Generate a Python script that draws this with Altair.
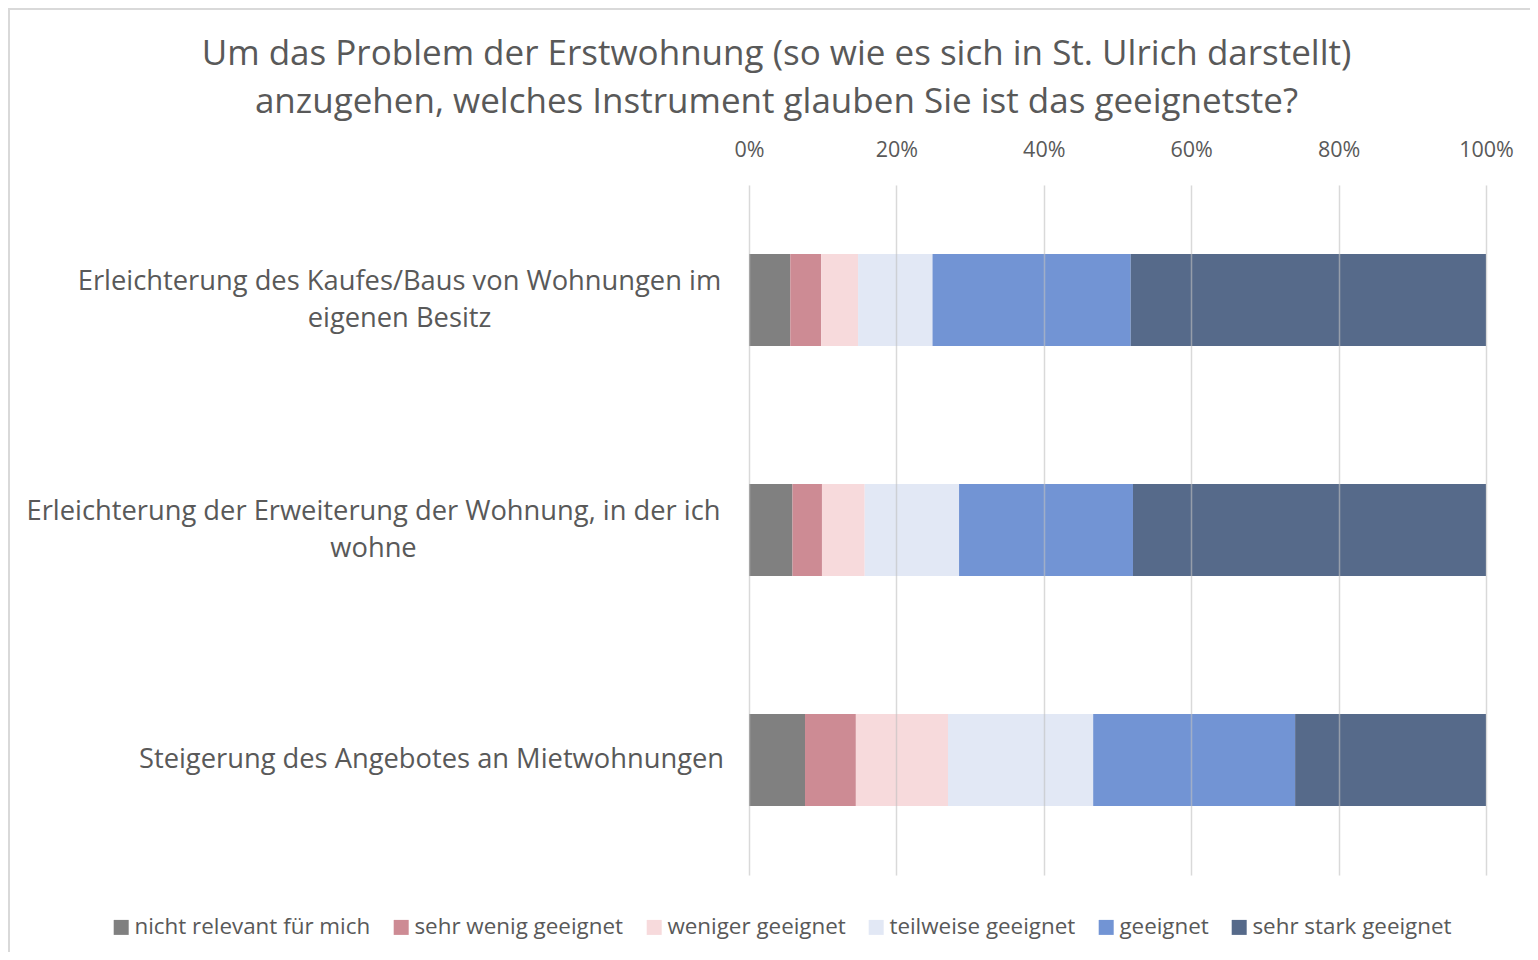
import altair as alt
import pandas as pd

categories = [
    "Erleichterung des Kaufes/Baus von Wohnungen im|eigenen Besitz",
    "Erleichterung der Erweiterung der Wohnung, in der ich|wohne",
    "Steigerung des Angebotes an Mietwohnungen",
]
responses = [
    "nicht relevant für mich",
    "sehr wenig geeignet",
    "weniger geeignet",
    "teilweise geeignet",
    "geeignet",
    "sehr stark geeignet",
]
shares_kauf = [5.6, 4.2, 5.0, 10.1, 26.9, 48.2]
shares_erweiterung = [5.9, 4.0, 5.8, 12.8, 23.6, 47.9]
shares_miete = [7.6, 6.9, 12.5, 19.7, 27.4, 25.9]
colors = ["#808080", "#CD8B94", "#F7DADC", "#E2E8F5", "#7294D4", "#566A8A"]
tick_values = [0, 0.2, 0.4, 0.6, 0.8, 1.0]

rows = []
for cat, vals in zip(categories, [shares_kauf, shares_erweiterung, shares_miete]):
    for i, (r, v) in enumerate(zip(responses, vals)):
        rows.append({"Instrument": cat, "Antwort": r, "Anteil": v, "idx": i})
df = pd.DataFrame(rows)

FONT = "Open Sans"
GREY = "#595959"

bars = alt.Chart(df).mark_bar().encode(
    x=alt.X(
        "Anteil:Q",
        stack="normalize",
        scale=alt.Scale(domain=[0, 1]),
        axis=alt.Axis(
            orient="top", format=".0%", values=tick_values, title=None,
            domain=False, ticks=False, tickSize=0, labelPadding=24,
            labelFlush=False,
            labelFontSize=21.5, labelColor=GREY, labelFont=FONT,
            gridColor="#BFBFBF", gridOpacity=0.6, gridWidth=1.5, zindex=1,
        ),
    ),
    y=alt.Y(
        "Instrument:N",
        sort=categories,
        scale=alt.Scale(paddingInner=0.6, paddingOuter=0.3),
        axis=alt.Axis(
            title=None, domain=False, ticks=False, tickSize=0, grid=False,
            labelExpr="split(datum.label, '|')",
            labelAlign="center", labelBaseline="middle",
            labelFontSize=27.3, labelColor=GREY, labelFont=FONT, labelLimit=1000,
            labelLineHeight=37,
            labelOffset={
                "condition": {"test": "indexof(datum.value, '|') >= 0", "value": -18},
                "value": 0,
            },
            labelPadding={
                "condition": [
                    {"test": "indexof(datum.value, 'Kaufes') >= 0", "value": 350},
                    {"test": "indexof(datum.value, 'Erweiterung') >= 0", "value": 376},
                ],
                "value": 318,
            },
        ),
    ),
    color=alt.Color(
        "Antwort:N",
        scale=alt.Scale(domain=responses, range=colors),
        legend=alt.Legend(
            title=None, orient="none", direction="horizontal",
            legendX=-639, legendY=731, columns=6,
            symbolType="square", symbolSize=225, symbolStrokeWidth=0,
            labelFontSize=22.4, labelColor=GREY, labelFont=FONT, labelLimit=1000,
            labelOffset=2, columnPadding=19,
        ),
    ),
    order=alt.Order("idx:Q"),
)

# outer chart frame (decoration)
frame_left = alt.Chart(df).mark_rule(color="#D9D9D9", strokeWidth=2).encode(
    x=alt.value(-740), y=alt.value(-177), y2=alt.value(767)
)
frame_top = alt.Chart(df).mark_rule(color="#D9D9D9", strokeWidth=2).encode(
    x=alt.value(-740), x2=alt.value(781), y=alt.value(-176)
)

chart = alt.layer(bars, frame_left, frame_top).properties(
    width=737,
    height=690,
    padding={"left": 741, "top": 177, "right": 44, "bottom": 77},
    autosize="none",
    title=alt.TitleParams(
        text=[
            "Um das Problem der Erstwohnung (so wie es sich in St. Ulrich darstellt)",
            "anzugehen, welches Instrument glauben Sie ist das geeignetste?",
        ],
        fontSize=35, font=FONT, color=GREY, fontWeight="normal",
        anchor="middle", dx=-341, lineHeight=48, offset=-113,
    ),
).configure_view(stroke=None)

chart.save("out.html", embed_options={"renderer": "svg", "actions": False})
